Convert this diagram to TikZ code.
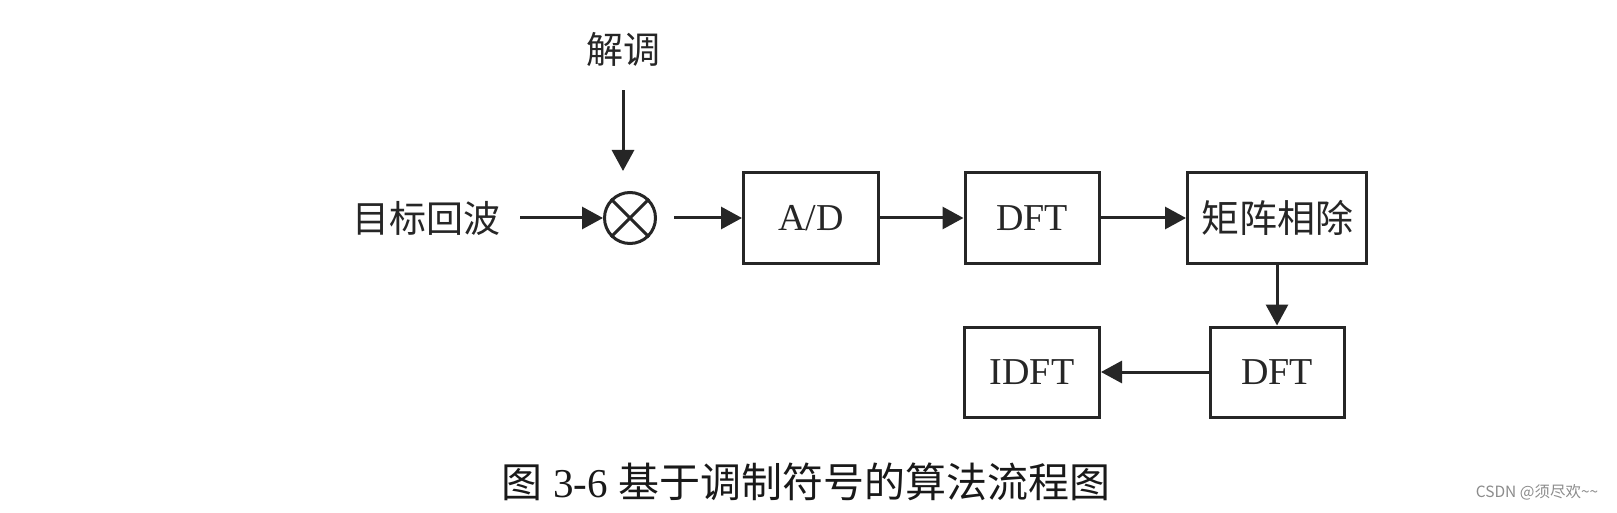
\documentclass[tikz,border=0pt]{standalone}
\usepackage{fontspec}
\setmainfont{Liberation Serif}
\newfontfamily\cjk{Noto Sans CJK SC}
\usetikzlibrary{arrows.meta}
\begin{document}
\begin{tikzpicture}[x=1pt,y=-1pt,
  ink/.style={draw=black!85},
  blk/.style={ink, line width=3pt, minimum height=90pt, inner sep=0pt, text=black!85},
  latin/.style={font=\fontsize{38}{40}\selectfont},
  cjklbl/.style={font=\cjk\fontsize{37}{40}\selectfont, inner sep=0pt, text=black!85},
  arr/.style={ink, line width=3pt, -{Triangle[length=21pt,width=22pt]}}]
\fill[white] (0,0) rectangle (1617,513);
\useasboundingbox (0,0) rectangle (1617,513);
% labels
\node[cjklbl] (jt) at (623,49) {解调};
\node[cjklbl] (src) at (426,218) {目标回波};
% multiplier
\node[circle, ink, line width=3pt, minimum size=51pt, inner sep=0pt] (mult) at (630,218) {};
\draw[ink, line width=3pt] (mult.45) -- (mult.225) (mult.135) -- (mult.315);
% boxes
\node[blk, latin, minimum width=135pt] (ad) at (811,218) {A/D};
\node[blk, latin, minimum width=134pt] (dft1) at (1032,218) {DFT};
\node[blk, font=\cjk\fontsize{38}{40}\selectfont, minimum width=179pt] (div) at (1277,218) {矩阵相除};
\node[blk, latin, minimum width=134pt] (dft2) at (1277,372) {DFT};
\node[blk, latin, minimum width=135pt] (idft) at (1032,372) {IDFT};
% connectors
\draw[arr, shorten <=20pt] (src) -- (mult);
\draw[arr, shorten <=24pt, shorten >=20pt] (jt.south) -- (jt.south |- mult.north);
\draw[arr, shorten <=17pt] (mult) -- (ad);
\draw[arr] (ad) -- (dft1);
\draw[arr] (dft1) -- (div);
\draw[arr] (div) -- (dft2);
\draw[arr] (dft2) -- (idft);
% caption
\node[inner sep=0pt, text=black!90, font=\fontsize{41}{44}\selectfont] (cap) at (806,482) {{\cjk 图} 3-6 {\cjk 基于调制符号的算法流程图}};
\node[inner sep=0pt, text=black!45, font=\cjk\fontsize{15.5}{18}\selectfont] (wm) at (1537,492) {CSDN @须尽欢\textasciitilde\textasciitilde};
\end{tikzpicture}
\end{document}
